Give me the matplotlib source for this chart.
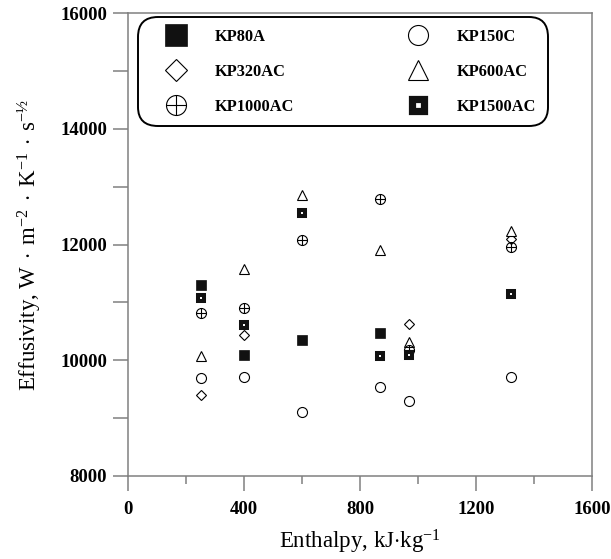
import numpy as np
import matplotlib
matplotlib.use("Agg")
import matplotlib.pyplot as plt
from matplotlib.path import Path

plt.rcParams['font.family'] = ['Liberation Serif', 'DejaVu Serif']
plt.rcParams['mathtext.fontset'] = 'custom'
plt.rcParams['mathtext.rm'] = 'Liberation Serif'
plt.rcParams['mathtext.it'] = 'Liberation Serif:italic'
plt.rcParams['mathtext.bf'] = 'Liberation Serif:bold'

# data
x_kp80a = [250, 400, 600, 870]
y_kp80a = [11300, 10090, 10350, 10470]

x_kp150c = [250, 400, 600, 870, 970, 1320]
y_kp150c = [9690, 9710, 9100, 9530, 9300, 9710]

x_kp320ac = [250, 400, 970, 1320]
y_kp320ac = [9400, 10430, 10620, 12100]

x_kp600ac = [250, 400, 600, 870, 970, 1320]
y_kp600ac = [10070, 11580, 12850, 11900, 10310, 12230]

x_kp1000ac = [250, 400, 600, 870, 970, 1320]
y_kp1000ac = [10820, 10900, 12070, 12780, 10180, 11950]

x_kp1500ac = [250, 400, 600, 870, 970, 1320]
y_kp1500ac = [11080, 10610, 12550, 10070, 10090, 11150]

# circle with a cross inside
crossed = Path.make_compound_path(
    Path.unit_circle(),
    Path([[-1, 0], [1, 0]], [Path.MOVETO, Path.LINETO]),
    Path([[0, -1], [0, 1]], [Path.MOVETO, Path.LINETO]))

fig = plt.figure(figsize=(6.11, 5.59), dpi=100)
ax = fig.add_axes([0.2095, 0.1485, 0.7595, 0.8282])

h80, = ax.plot(x_kp80a, y_kp80a, ls='none', marker='s', ms=7.6, mfc='#111111',
               mec='#111111', mew=0.5, label='KP80A')
h150, = ax.plot(x_kp150c, y_kp150c, ls='none', marker='o', ms=7.2, mfc='white',
                mec='black', mew=0.8, label='KP150C')
h320, = ax.plot(x_kp320ac, y_kp320ac, ls='none', marker='D', ms=5.6, mfc='white',
                mec='black', mew=0.8, label='KP320AC')
h600, = ax.plot(x_kp600ac, y_kp600ac, ls='none', marker='^', ms=7.0, mfc='white',
                mec='black', mew=0.8, label='KP600AC')
h1000, = ax.plot(x_kp1000ac, y_kp1000ac, ls='none', marker=crossed, ms=7.2,
                 mfc='none', mec='black', mew=0.8, label='KP1000AC')
h1500, = ax.plot(x_kp1500ac, y_kp1500ac, ls='none', marker='s', ms=5.0,
                 mfc='white', mec='#111111', mew=2.9, label='KP1500AC')

ax.set_xlim(0, 1600)
ax.set_ylim(8000, 16000)
ax.set_xticks(np.arange(0, 1601, 400))
ax.set_xticks(np.arange(0, 1601, 200), minor=True)
ax.set_yticks(np.arange(8000, 16001, 2000))
ax.set_yticks(np.arange(8000, 16001, 1000), minor=True)

for s in ax.spines.values():
    s.set_color('#808080')
    s.set_linewidth(1.1)

ax.tick_params(which='both', direction='out', color='#808080', width=1.1,
               labelsize=13.5)
ax.tick_params(axis='x', which='major', length=11, pad=7)
ax.tick_params(axis='x', which='minor', length=6)
ax.tick_params(axis='y', which='both', length=11, pad=4)
for lab in ax.get_xticklabels() + ax.get_yticklabels():
    lab.set_fontweight('bold')

ax.set_xlabel(r'Enthalpy, kJ$\cdot$kg$^{-1}$', fontsize=16.5, labelpad=7)
ax.set_ylabel(r'Effusivity, W$\;\cdot\;$m$^{-2}\;\cdot\;$K$^{-1}\;\cdot\;$s$^{-\mathrm{½}}$',
              fontsize=16.5, labelpad=12)

# legend filled row by row like the original
handles = [h80, h320, h1000, h150, h600, h1500]
leg = ax.legend(handles=handles, labels=[h.get_label() for h in handles],
                loc='upper left', ncol=2,
                bbox_to_anchor=(0.0216, 0.991),
                borderaxespad=0, prop={'weight': 'bold', 'size': 11.8},
                markerscale=2.0, handlelength=3.15, handletextpad=0.8,
                columnspacing=6.0, labelspacing=1.15, borderpad=0.72,
                fancybox=True, framealpha=1, edgecolor='black')
fr = leg.get_frame()
fr.set_linewidth(1.4)
fr.set_boxstyle('round,pad=0,rounding_size=1.2')
leg.legend_handles[5].set_markeredgewidth(5.2)
leg.legend_handles[5].set_markersize(9.3)

fig.savefig('out.png', dpi=100)
